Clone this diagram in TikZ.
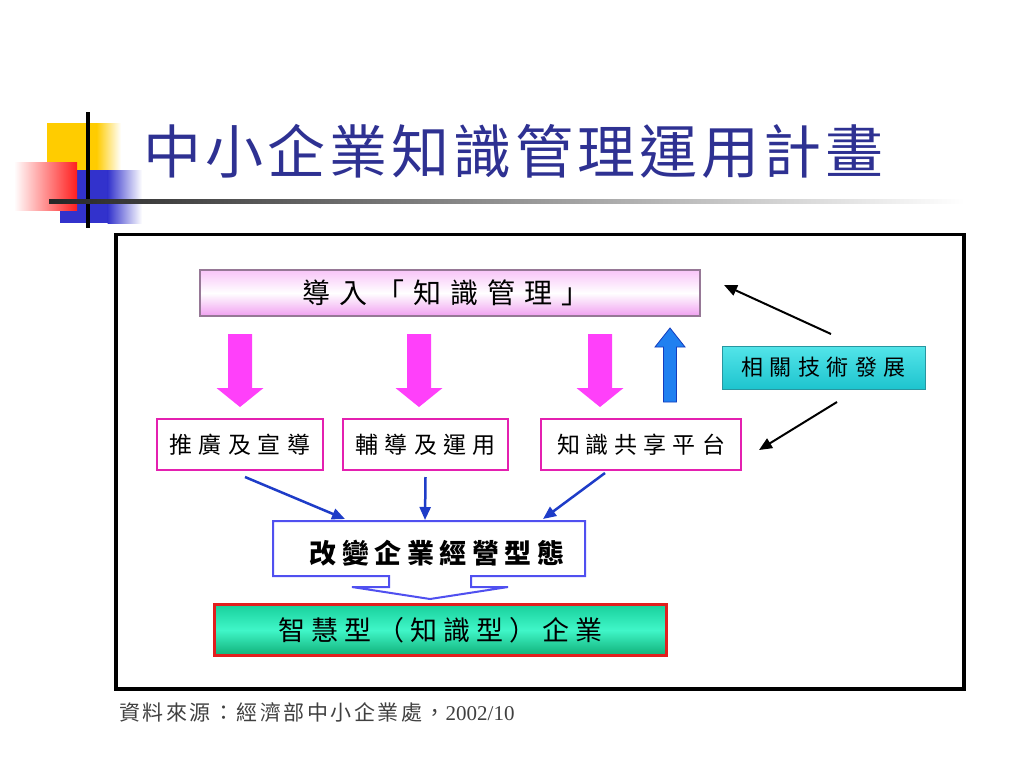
\documentclass[tikz,border=0pt]{standalone}
\usepackage{fontspec}
\setmainfont{Liberation Serif}
\newfontfamily\cjk{Noto Sans CJK TC}
\usetikzlibrary{arrows.meta,calc}
\makeatletter
\newcommand\lsp[2]{\def\lsp@sep{#1}\lsp@go#2\relax}
\def\lsp@go#1{\ifx\relax#1\unskip\else#1\hskip\lsp@sep\relax\expandafter\lsp@go\fi}
\makeatother
\definecolor{titleblue}{RGB}{46,49,146}
\definecolor{pinkarr}{RGB}{255,64,250}
\definecolor{magbox}{RGB}{228,32,176}
\definecolor{arrblue}{RGB}{30,60,200}
\definecolor{callblue}{RGB}{80,80,240}
\definecolor{upblue}{RGB}{32,128,240}
\definecolor{upborder}{RGB}{20,60,190}
\definecolor{toppink}{RGB}{248,196,248}
\definecolor{botpink}{RGB}{240,160,240}
\definecolor{topborder}{RGB}{150,120,150}
\definecolor{cyanfill}{RGB}{40,222,228}
\definecolor{cyandark}{RGB}{30,196,206}
\definecolor{cyanborder}{RGB}{40,150,160}
\definecolor{grtop}{RGB}{24,208,156}
\definecolor{grmid}{RGB}{64,246,200}
\definecolor{grbot}{RGB}{16,176,120}
\definecolor{redborder}{RGB}{226,30,30}
\definecolor{decoyellow}{RGB}{255,204,0}
\definecolor{decoblue}{RGB}{50,50,204}
\definecolor{decored}{RGB}{255,30,30}
\begin{document}
\begin{tikzpicture}[x=1pt,y=-1pt,
  midbox/.style={draw=magbox,line width=2pt,fill=white,minimum height=51pt,inner sep=0pt,font=\cjk\fontsize{23}{25}\selectfont},
  bluearr/.style={draw=arrblue,line width=2.5pt,-{Triangle[length=13pt,width=11pt]}},
  blackarr/.style={draw=black,line width=2pt,-{Triangle[length=13pt,width=11pt]}},
]
\useasboundingbox (0,0) rectangle (1024,768);
\fill[white] (0,0) rectangle (1024,768);

% decoration
\fill[decoyellow] (47,123) rectangle (97,172);
\shade[left color=decoyellow,right color=white] (96.5,123) rectangle (121,172);
\fill[decoblue] (60,170) rectangle (108,223);
\shade[left color=decoblue,right color=white] (107.5,170) rectangle (142,223);
\shade[left color=white,right color=decored] (14,162) rectangle (77,210);
\fill[black] (86,112) rectangle (89.5,228);
\shade[left color=black!85,right color=white] (49,199.5) rectangle (965,203);

% title
\node[anchor=west,text=titleblue,font=\cjk\fontsize{58}{60}\selectfont,inner sep=0pt] (title) at (143,151) {\lsp{4pt}{中小企業知識管理運用計畫}};

% frame
\draw[line width=3.2pt] (116,234.5) rectangle (964,689);

% top box
\node[draw=topborder,line width=1.2pt,minimum width=500pt,minimum height=46pt,inner sep=0pt,
  top color=toppink,bottom color=botpink,middle color=white,
  font=\cjk\fontsize{28}{30}\selectfont] (top) at (450,293) {\kern-8pt\lsp{9pt}{導入「知識管理」}};

% middle boxes
\node[midbox,minimum width=166pt] (b1) at (240,444.5) {\lsp{6.5pt}{推廣及宣導}};
\node[midbox,minimum width=165pt] (b2) at (425.5,444.5) {\lsp{6.5pt}{輔導及運用}};
\node[midbox,minimum width=200pt] (b3) at (641,444.5) {\lsp{6pt}{知識共享平台}};

% cyan box
\node[draw=cyanborder,line width=1pt,minimum width=203pt,minimum height=43pt,inner sep=0pt,
  top color=cyanfill!80!white,bottom color=cyandark,
  font=\cjk\fontsize{22}{24}\selectfont] (tech) at (823.5,367.5) {\lsp{6.5pt}{相關技術發展}};

% pink block arrows
\foreach \cx in {240,419,600}{
  \fill[pinkarr] (\cx-12,334) -- (\cx+12,334) -- (\cx+12,388) -- (\cx+23.5,388) -- (\cx,407) -- (\cx-23.5,388) -- (\cx-12,388) -- cycle;
}
% blue up arrow
\filldraw[fill=upblue,draw=upborder,line width=0.8pt] (663.5,402) -- (676.5,402) -- (676.5,347) -- (685,347) -- (670,328) -- (655,347) -- (663.5,347) -- cycle;

% black arrows
\coordinate (t1) at (831,334);
\coordinate (t1e) at (724,285);
\coordinate (t2) at (837,402);
\coordinate (t2e) at (759,450);
\draw[blackarr] (t1) -- (t1e);
\draw[blackarr] (t2) -- (t2e);

% callout box
\draw[draw=callblue,line width=2pt,fill=white] (273,521) -- (585,521) -- (585,576) -- (471,576) -- (471,587) -- (508,587) -- (430,599) -- (352,587) -- (389,587) -- (389,576) -- (273,576) -- cycle;
\node[font=\cjk\bfseries\fontsize{27}{29}\selectfont,inner sep=0pt] (chg) at (437,553) {\lsp{5.5pt}{改變企業經營型態}};

% blue connectors
\draw[bluearr] ([xshift=5pt,yshift=-6pt]b1.south) -- (345,519);
\draw[bluearr] ([yshift=-6pt]b2.south) -- (425,520);
\draw[bluearr] ([xshift=-36pt,yshift=-2pt]b3.south) -- (543,519);

% green box
\node[draw=redborder,line width=2.5pt,minimum width=452pt,minimum height=51pt,inner sep=0pt,
  top color=grtop,bottom color=grbot,middle color=grmid,
  font=\cjk\fontsize{27}{29}\selectfont] (smart) at (440.5,630) {\lsp{6pt}{智慧型（知識型）企業}};

% caption
\node[anchor=west,inner sep=0pt,text=black!75,font=\fontsize{21}{23}\selectfont] (src) at (119,712) {{\cjk\lsp{2.5pt}{資料來源：經濟部中小企業處，}}2002/10};
\end{tikzpicture}
\end{document}
